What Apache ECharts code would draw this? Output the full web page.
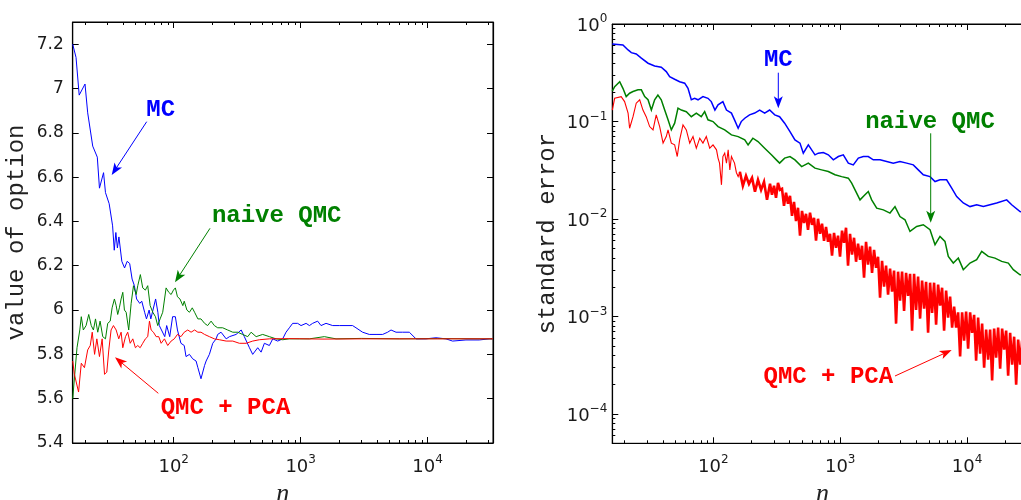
<!DOCTYPE html>
<html><head><meta charset="utf-8">
<script src="https://cdn.jsdelivr.net/npm/echarts@6/dist/echarts.min.js"></script>
<style>html,body{margin:0;padding:0;background:#fff}#c{width:1021px;height:500px}</style>
</head><body><div id="c"></div>
<script>
// ---------- Left panel: value of option vs n ----------
const leftN_MC = [16,17,18,20,21,23,25,26,28,29,31,33,34,35,36,37,39,41,43,45,47,49,51,54,56,59,61,64,66,72,75,77,85,88,93,98,103,107,114,121,125,133,141,150,155,164,175,180,191,203,216,222,236,259,275,310,340,360,395,419,459,488,518,567,603,659,722,767,815,865,947,1007,1104,1172,1243,1361,1447,1585,1788,2017,2277,2566,2729,3077,3474,3925,4427,4845,5152,5642,6357,7178,8107,9706,11640,13960,15740,20060,25520,30610,32768];
const leftV_MC = [7.2,7.14,6.97,7.02,6.89,6.74,6.69,6.55,6.62,6.53,6.48,6.38,6.27,6.35,6.28,6.33,6.22,6.19,6.22,6.21,6.14,6.11,6.05,6.03,6.04,5.99,5.96,6.0,5.96,6.05,5.99,5.93,5.88,5.93,5.88,5.97,5.97,5.91,5.85,5.84,5.79,5.80,5.78,5.77,5.74,5.69,5.75,5.77,5.80,5.85,5.87,5.89,5.90,5.87,5.88,5.89,5.91,5.88,5.83,5.80,5.83,5.81,5.85,5.84,5.87,5.86,5.87,5.90,5.92,5.94,5.94,5.93,5.94,5.93,5.94,5.95,5.93,5.94,5.93,5.93,5.93,5.93,5.92,5.90,5.89,5.89,5.89,5.90,5.91,5.90,5.90,5.90,5.87,5.87,5.875,5.87,5.86,5.865,5.865,5.87,5.87];
const leftN_QMC = [16,17.3,18.2,18.7,19.4,20.4,21.4,22.4,23.3,24.2,25.2,26.3,27.6,29,30.2,31.6,32.7,34.1,35.2,36.2,37.3,38.5,39.7,40.9,42.2,44.2,46.2,48.2,50.6,52.1,54.6,57,59.8,62.4,65.2,68.4,71.8,74.8,78.1,81.9,87.1,91.4,95.4,99.5,103,107,112,118,121,127,133,140,146,155,164,175,185,197,209,222,243,266,292,319,349,383,407,446,502,567,640,722,815,977,1172,1537,1900,3000,6000,12000,32768];
const leftV_QMC = [5.60,5.83,5.91,5.97,5.91,5.93,5.98,5.93,5.91,5.96,5.90,5.95,5.88,5.87,5.94,5.95,6.01,6.05,6.02,5.98,6.01,6.05,6.08,6.0,5.99,5.91,6.03,6.11,6.07,6.11,6.16,6.10,6.09,6.11,6.02,5.99,5.97,5.93,5.96,5.99,6.10,6.08,6.07,6.09,6.10,6.06,6.05,6.02,6.04,6.0,5.99,6.01,5.99,5.96,5.96,5.94,5.93,5.95,5.93,5.92,5.92,5.91,5.90,5.90,5.89,5.88,5.90,5.88,5.89,5.88,5.87,5.866,5.87,5.87,5.87,5.88,5.87,5.872,5.87,5.871,5.87];
const leftN_PCA = [16,16.5,17.8,18.7,19.8,21,22,22.8,23.8,24.8,26,27.3,28.5,29.7,30.8,32.1,33.5,35.2,36.9,38.5,39.7,41.7,43.4,45.4,47.6,49.9,52.1,54.4,57,59.8,62.4,64.4,66.4,69.2,72.7,76.2,79.6,84.5,89.7,95.4,101,107,114,121,129,137,146,155,164,175,191,209,229,259,292,329,372,419,473,567,800,1500,3000,32768];
const leftV_PCA = [5.77,5.71,5.63,5.76,5.74,5.82,5.84,5.90,5.80,5.87,5.79,5.87,5.71,5.72,5.82,5.91,5.93,5.91,5.87,5.90,5.83,5.88,5.90,5.85,5.87,5.83,5.84,5.83,5.85,5.87,5.88,5.95,5.91,5.90,5.88,5.88,5.85,5.87,5.84,5.86,5.87,5.89,5.88,5.90,5.91,5.90,5.91,5.90,5.90,5.89,5.88,5.87,5.866,5.86,5.86,5.85,5.85,5.86,5.866,5.87,5.871,5.869,5.87,5.87];

// ---------- Right panel: standard error vs n ----------
const rightN_MC = [16,19.4,21.3,22.6,24.7,27.1,30.6,34.5,38.9,42.6,45.3,49.6,54.3,59.5,63.2,67.1,71.3,75.8,82.9,90.8,96.4,103,109,119,127,139,147,157,166,177,193,212,232,254,278,305,333,365,402,440,482,512,561,633,672,736,806,883,967,1058,1159,1268,1390,1522,1665,1823,2060,2325,2620,2958,3342,3767,4125,4517,5102,5589,6115,6897,7565,8279,9334,10540,11900,13430,15150,17100,20520,22460,26130,32768];
const rightV_MC = [0.624,0.609,0.542,0.508,0.493,0.446,0.396,0.371,0.360,0.325,0.288,0.271,0.256,0.247,0.219,0.167,0.173,0.167,0.180,0.173,0.160,0.131,0.148,0.160,0.131,0.122,0.104,0.0853,0.0998,0.108,0.117,0.122,0.131,0.122,0.131,0.117,0.112,0.0961,0.0788,0.0648,0.0600,0.0473,0.0576,0.0455,0.0473,0.0480,0.0455,0.0404,0.0437,0.0455,0.0374,0.0359,0.0421,0.0437,0.0437,0.0404,0.0404,0.0388,0.0374,0.0388,0.0374,0.0359,0.0319,0.0284,0.0272,0.0242,0.0252,0.0252,0.0207,0.0170,0.0146,0.0134,0.0140,0.0134,0.0140,0.0146,0.0157,0.0140,0.0119,0.0115];
const rightN_QMC = [16,16.7,18.3,19.4,20.6,21.9,23.3,25.5,27.1,28.8,30.6,32.5,34.5,36.6,38.9,41.4,44.0,46.7,49.6,52.7,56.0,61.3,67.1,73.5,80.4,85.5,90.8,99.5,109,123,139,157,177,188,205,225,254,287,314,333,365,402,440,497,561,633,714,806,910,1027,1159,1232,1309,1433,1568,1665,1770,1940,2188,2468,2703,2958,3241,3548,4006,4517,5102,5589,6115,6693,7112,7786,8530,9334,10540,11900,13040,14690,16590,18730,21130,23140,26130,32768];
const rightV_QMC = [0.205,0.228,0.256,0.219,0.180,0.195,0.203,0.211,0.211,0.180,0.167,0.131,0.167,0.187,0.167,0.131,0.104,0.082,0.0961,0.137,0.131,0.126,0.112,0.122,0.112,0.126,0.104,0.0998,0.0887,0.082,0.0729,0.0700,0.0648,0.0576,0.0674,0.0622,0.0532,0.0455,0.0404,0.0374,0.0421,0.0437,0.0404,0.0345,0.0374,0.0332,0.0319,0.0307,0.0284,0.0272,0.0262,0.0233,0.0199,0.0157,0.0177,0.0191,0.0157,0.0129,0.0124,0.0115,0.0134,0.0106,0.00981,0.00745,0.00838,0.00873,0.00775,0.00544,0.00662,0.00588,0.00413,0.00353,0.00397,0.00302,0.00353,0.00382,0.00465,0.00413,0.00397,0.00367,0.00353,0.00302,0.00268,0.0026];
const rightN_PCA = [16,16.7,18.8,20.0,21.3,21.9,23.3,24.7,26.3,27.9,29.6,31.5,33.5,35.5,37.8,40.2,42.6,44.0,46.7,49.6,52.0,54.3,57.7,61.3,65.2,69.2,73.5,78.2,82.9,88.1,93.7,99.5,103,106,109,112,116,119,123,127,131,135,139,143,147,152,157,
  162,171,181,191,202,213,225,238,251,265,
  279.8,290.1,300.9,312.0,323.5,335.5,347.9,360.7,374.1,387.9,402.2,417.1,432.5,448.5,465.1,482.3,500.1,518.6,537.8,557.7,578.3,599.7,621.9,644.9,668.7,693.4,719.1,745.7,773.3,801.9,831.5,862.3,894.2,927.2,961.5,997.0,1033.8,1072.1,1111.7,1152.8,1195.5,1239.7,1285.5,1333.1,1382.4,1433.5,1486.5,1541.5,1598.5,1657.6,1718.9,1782.5,1848.4,1916.8,1987.6,2061.1,2137.4,2216.4,2298.4,2383.4,2471.5,2562.9,2657.7,2756.0,2857.9,2963.6,3073.2,3186.9,3304.7,3427.0,3553.7,3685.1,3821.4,3962.8,4109.3,4261.3,4418.9,4582.3,4751.8,4927.5,5109.7,5298.7,5494.6,5697.8,5908.5,6127.0,6353.6,6588.6,6832.2,7084.9,7346.9,7618.6,7900.3,8192.5,8495.4,8809.6,9135.4,9473.2,9823.5,10187,10563,10954,11359,11779,12215,12666,13135,13621,14124,14647,15189,15750,16333,16937,17563,18213,18886,19585,20309,21060,21839,22647,23484,24353,25253,26187,27156,28160,29202,30282,31402,32563,32768];
const rightV_PCA = [0.131,0.173,0.180,0.160,0.122,0.0853,0.112,0.154,0.167,0.131,0.112,0.0887,0.0820,0.117,0.0887,0.0600,0.0700,0.0820,0.0600,0.0576,0.0437,0.0648,0.0923,0.082,0.0600,0.0700,0.0532,0.0674,0.0600,0.0700,0.0532,0.0576,0.0600,0.0512,0.0421,0.0374,0.0224,0.0437,0.0473,0.0374,0.0512,0.0319,0.0437,0.0404,0.0374,0.0300,0.0272,
  0.0305,0.0219,0.0277,0.0229,0.0264,0.0190,0.0252,0.0199,0.0240,0.0157,
  0.02294,0.0177,0.02188,0.01648,0.0235,0.01991,0.0204,0.01365,0.01855,0.01431,
  0.01728,0.01078,0.0150,0.0095,0.01302,0.00673,0.0121,0.0091,0.0113,0.00775,
  0.0116,0.0087,0.01029,0.00598,0.01005,0.00705,0.00893,0.00598,0.0083,0.00584,
  0.00705,0.0042,0.0072,0.00507,0.00673,0.0041,0.0076,0.0057,0.00812,0.00332,
  0.00705,0.0043,0.00642,0.00364,0.00557,0.00382,0.00531,0.0025,0.00584,0.0034,
  0.0052,0.0028,0.00483,0.00316,0.0041,0.00156,0.00373,0.00202,0.00332,0.00167,
  0.00309,0.0018,0.00295,0.000844,0.00288,0.00145,0.00288,0.00114,0.0028,0.00163,
  0.00274,0.000715,0.00274,0.00117,0.00256,0.00095,0.00233,0.0012,0.00227,0.00068,
  0.00222,0.00109,0.00222,0.000825,0.00212,0.00129,0.00197,0.000715,0.00184,0.000972,
  0.0016,0.000768,0.00126,0.000768,0.00110,0.000388,0.00110,0.000565,0.00112,0.000468,
  0.00110,0.00068,0.00104,0.000352,0.000972,0.000416,0.000844,0.000299,0.000732,0.000361,
  0.000732,0.00022,0.00075,0.000378,0.000768,0.000292,0.00075,0.000457,0.000715,0.000247,
  0.00068,0.00032,0.00062,0.0002,0.000578,0.00032,0.000565,0.000195,0.000552,0.000285,
  0.00054,0.000205,0.0004];
const PCA_DENSE_FROM = 47; // index where the PCA error curve becomes a dense noisy band

// ---------- Axis ticks ----------
const xMajorTicks = [100, 1000, 10000];
const xMinorTicks = [20,30,40,50,60,70,80,90,200,300,400,500,600,700,800,900,2000,3000,4000,5000,6000,7000,8000,9000,20000,30000];
const leftYTicks = [5.4,5.6,5.8,6.0,6.2,6.4,6.6,6.8,7.0,7.2];
const rightYMajorTicks = [0.0001,0.001,0.01,0.1,1];
const rightYMinorTicks = [6e-5,7e-5,8e-5,9e-5,2e-4,3e-4,4e-4,5e-4,6e-4,7e-4,8e-4,9e-4,2e-3,3e-3,4e-3,5e-3,6e-3,7e-3,8e-3,9e-3,0.02,0.03,0.04,0.05,0.06,0.07,0.08,0.09,0.2,0.3,0.4,0.5,0.6,0.7,0.8,0.9];

const BLUE = '#0000ff', GREEN = '#008000', RED = '#ff0000';
const TICKFONT = '"DejaVu Sans", sans-serif';
const MONO = '"Liberation Mono", "Courier New", monospace';

function zip(ns, vs) { const out = []; const m = Math.min(ns.length, vs.length); for (let i = 0; i < m; i++) out.push([ns[i], vs[i]]); return out; }
function expLabel(v) {
  const e = Math.round(Math.log10(v));
  if (Math.abs(Math.log10(v) - e) > 1e-6) return '';
  return '{b|10}{s|' + (e < 0 ? '\u2212' + (-e) : e) + '}';
}
const richSup = {
  b: { fontSize: 18, fontFamily: TICKFONT, color: '#1a1a1a', lineHeight: 22, verticalAlign: 'bottom' },
  s: { fontSize: 12, fontFamily: TICKFONT, color: '#1a1a1a', lineHeight: 12, verticalAlign: 'top' }
};
const tickLine = { color: '#000', width: 1 };

function xAxes(gridIndex) {
  const base = { gridIndex, type: 'log', logBase: 10, min: 16, max: 32768, splitLine: { show: false }, minorTick: { show: false } };
  return [
    Object.assign({}, base, {
      position: 'bottom',
      axisLine: { show: true, lineStyle: { color: '#000', width: 1.2 } },
      axisTick: { show: true, inside: true, length: 6, lineStyle: tickLine, customValues: xMajorTicks },
      axisLabel: { show: true, customValues: xMajorTicks, formatter: expLabel, margin: 11, rich: richSup },
      name: 'n', nameLocation: 'middle', nameGap: 36,
      nameTextStyle: { fontFamily: '"Liberation Serif", "Times New Roman", serif', fontStyle: 'italic', fontSize: 26, color: '#222' }
    }),
    Object.assign({}, base, {
      position: 'bottom', axisLine: { show: false },
      axisTick: { show: true, inside: true, length: 3, lineStyle: tickLine, customValues: xMinorTicks },
      axisLabel: { show: false }
    }),
    Object.assign({}, base, {
      position: 'top', axisLine: { show: true, lineStyle: { color: '#000', width: 1.2 } },
      axisTick: { show: true, inside: true, length: 6, lineStyle: tickLine, customValues: xMajorTicks },
      axisLabel: { show: false }
    }),
    Object.assign({}, base, {
      position: 'top', axisLine: { show: false },
      axisTick: { show: true, inside: true, length: 3, lineStyle: tickLine, customValues: xMinorTicks },
      axisLabel: { show: false }
    })
  ];
}

const yAxes = [
  { gridIndex: 0, type: 'value', position: 'left', min: 5.4, max: 7.3, splitLine: { show: false },
    axisLine: { show: true, lineStyle: { color: '#000', width: 1.2 } },
    axisTick: { show: true, inside: true, length: 6, lineStyle: tickLine, customValues: leftYTicks },
    axisLabel: { show: true, customValues: leftYTicks, margin: 9, fontSize: 17, fontFamily: TICKFONT, color: '#1a1a1a', formatter: v => String(+(+v).toFixed(1)) },
    name: 'value of option', nameLocation: 'middle', nameGap: 44,
    nameTextStyle: { fontFamily: MONO, fontSize: 24, color: '#222' } },
  { gridIndex: 0, type: 'value', position: 'right', min: 5.4, max: 7.3, splitLine: { show: false },
    axisLine: { show: true, lineStyle: { color: '#000', width: 1.2 } },
    axisTick: { show: true, inside: true, length: 6, lineStyle: tickLine, customValues: leftYTicks },
    axisLabel: { show: false } },
  { gridIndex: 1, type: 'log', logBase: 10, position: 'left', min: 5e-5, max: 1, splitLine: { show: false },
    axisLine: { show: true, lineStyle: { color: '#000', width: 1.2 } },
    axisTick: { show: true, inside: true, length: 6, lineStyle: tickLine, customValues: rightYMajorTicks },
    axisLabel: { show: true, customValues: rightYMajorTicks, margin: 5, formatter: expLabel, rich: richSup },
    name: 'standard error', nameLocation: 'middle', nameGap: 53,
    nameTextStyle: { fontFamily: MONO, fontSize: 24, color: '#222' } },
  { gridIndex: 1, type: 'log', logBase: 10, position: 'left', min: 5e-5, max: 1, splitLine: { show: false },
    axisLine: { show: false },
    axisTick: { show: true, inside: true, length: 3, lineStyle: tickLine, customValues: rightYMinorTicks },
    axisLabel: { show: false } }
];

function line(name, data, color, xi, yi, w) {
  return { name, type: 'line', xAxisIndex: xi, yAxisIndex: yi, data, showSymbol: false, symbol: 'none',
    lineStyle: { color, width: w || 1, join: 'miter', miterLimit: 4 }, itemStyle: { color }, animation: false, silent: true, clip: true, z: 3 };
}
function arrow(x1, y1, x2, y2, color) {
  const dx = x2 - x1, dy = y2 - y1, L = Math.hypot(dx, dy), ux = dx / L, uy = dy / L, px = -uy, py = ux;
  const hl = 12, hw = 4.5, notch = 3;
  const bx = x2 - ux * hl, by = y2 - uy * hl;
  return [
    { type: 'line', shape: { x1, y1, x2: x2 - ux * 6, y2: y2 - uy * 6 }, style: { stroke: color, lineWidth: 1 }, silent: true, z: 10 },
    { type: 'polygon', shape: { points: [[x2, y2], [bx + px * hw, by + py * hw], [x2 - ux * (hl - notch), y2 - uy * (hl - notch)], [bx - px * hw, by - py * hw]] },
      style: { fill: color }, silent: true, z: 10 }
  ];
}
function label(text, x, y, color) {
  return { type: 'text', x, y, silent: true, z: 10,
    style: { text, fill: color, font: 'bold 24px ' + MONO, align: 'center', verticalAlign: 'middle', textAlign: 'center', textVerticalAlign: 'middle' } };
}
const graphics = [].concat(
  label('MC', 160.7, 109.5, BLUE), arrow(146.7, 121.7, 111.7, 175, BLUE),
  label('naive QMC', 276.7, 216, GREEN), arrow(210, 228.3, 175, 282.3, GREEN),
  label('QMC + PCA', 225.5, 407.5, RED), arrow(158.3, 393.3, 115, 357.3, RED),
  label('MC', 778.3, 59.5, BLUE), arrow(778.3, 72.7, 778.3, 108.3, BLUE),
  label('naive QMC', 930, 122, GREEN), arrow(930.7, 133.3, 930.7, 222.7, GREEN),
  label('QMC + PCA', 828.3, 377, RED), arrow(895, 376, 951.7, 350, RED)
);

const pcaRight = zip(rightN_PCA, rightV_PCA);
const chart = echarts.init(document.getElementById('c'), null, { renderer: 'canvas' });
chart.setOption({
  animation: false,
  backgroundColor: '#ffffff',
  grid: [
    { left: 72.7, top: 22, right: 528, bottom: 57, containLabel: false, outerBoundsMode: 'none', show: true, borderColor: '#000', borderWidth: 1, backgroundColor: 'transparent' },
    { left: 612.3, top: 24, right: -11.5, bottom: 56.7, containLabel: false, outerBoundsMode: 'none', show: true, borderColor: '#000', borderWidth: 1, backgroundColor: 'transparent' }
  ],
  xAxis: xAxes(0).concat(xAxes(1)),
  yAxis: yAxes,
  series: [
    line('MC', zip(leftN_MC, leftV_MC), BLUE, 0, 0),
    line('naive QMC', zip(leftN_QMC, leftV_QMC), GREEN, 0, 0),
    line('QMC + PCA', zip(leftN_PCA, leftV_PCA), RED, 0, 0),
    line('MC', zip(rightN_MC, rightV_MC), BLUE, 4, 2, 1.5),
    line('naive QMC', zip(rightN_QMC, rightV_QMC), GREEN, 4, 2, 1.5),
    line('QMC + PCA', pcaRight.slice(0, PCA_DENSE_FROM + 1), RED, 4, 2, 1.1),
    line('QMC + PCA', pcaRight.slice(PCA_DENSE_FROM), RED, 4, 2, 2.6)
  ],
  graphic: graphics
});
</script></body></html>
